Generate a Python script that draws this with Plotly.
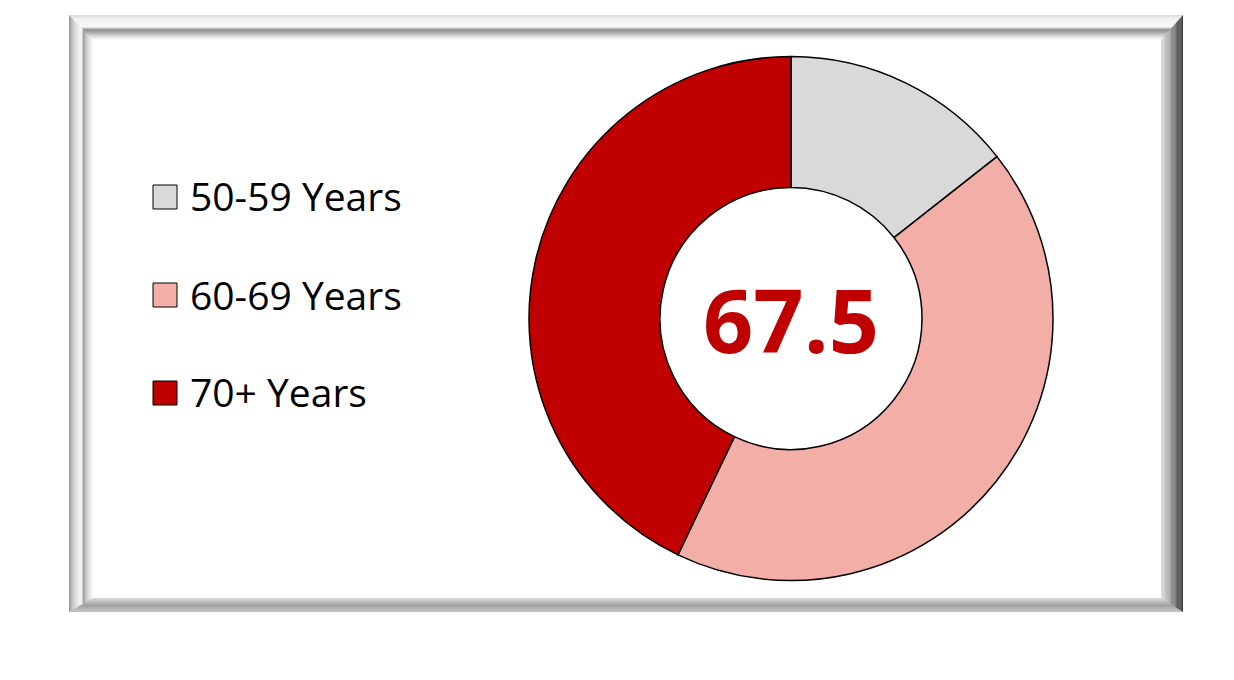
import plotly.graph_objects as go

# ---- data ----
labels = ["50-59 Years", "60-69 Years", "70+ Years"]
values = [14.4, 42.7, 42.9]
colors = ["#d9d9d9", "#f4aea8", "#c00000"]
center_value = "67.5"

W, H = 1234, 680


def X(px):
    return px / W


def Y(py):
    return 1 - py / H


def hex2rgb(h):
    h = h.lstrip("#")
    return tuple(int(h[i:i + 2], 16) for i in (0, 2, 4))


def grad(stops, t):
    for (t0, c0), (t1, c1) in zip(stops[:-1], stops[1:]):
        if t0 <= t <= t1:
            a = 0 if t1 == t0 else (t - t0) / (t1 - t0)
            r0, r1 = hex2rgb(c0), hex2rgb(c1)
            return "rgb(%d,%d,%d)" % tuple(round(r0[k] + (r1[k] - r0[k]) * a) for k in range(3))
    return stops[-1][1]


shapes = []
annotations = []

# ---- bevelled frame ----
L, T, R, B = 69, 15, 1183, 612
wT, wL, wR, wB = 25, 24, 22, 14
top_stops = [(0, "#dcdcdc"), (0.15, "#eeeeee"), (0.5, "#f8f8f8"), (0.54, "#9a9a9a"),
             (0.6, "#6e6e6e"), (0.78, "#b4b4b4"), (0.92, "#ececec"), (1, "#ffffff")]
left_stops = [(0, "#8e8e8e"), (0.2, "#c0c0c0"), (0.45, "#f0f0f0"), (0.55, "#f5f5f5"),
              (0.58, "#858585"), (0.8, "#cfcfcf"), (1, "#fcfcfc")]
right_stops = [(0, "#1c1c1c"), (0.2, "#383838"), (0.4, "#666666"), (0.6, "#959595"),
               (0.8, "#bababa"), (1, "#d6d6d6")]
bottom_stops = [(0, "#b4b4b4"), (0.45, "#808080"), (0.7, "#9c9c9c"), (1, "#d0d0d0")]

n = 26


def poly(pts):
    return "M " + " L ".join("%f,%f" % (X(a), Y(b)) for a, b in pts) + " Z"


for j in range(n):
    t0, t1 = j / n, (j + 1) / n
    tm = (t0 + t1) / 2
    xl0, xr0, yt0, yb0 = L + t0 * wL, R - t0 * wR, T + t0 * wT, B - t0 * wB
    xl1, xr1, yt1, yb1 = L + t1 * wL, R - t1 * wR, T + t1 * wT, B - t1 * wB
    sides = [
        ([(xl0, yt0), (xr0, yt0), (xr1, yt1), (xl1, yt1)], grad(top_stops, tm)),
        ([(xl0, yt0), (xl1, yt1), (xl1, yb1), (xl0, yb0)], grad(left_stops, tm)),
        ([(xr0, yt0), (xr0, yb0), (xr1, yb1), (xr1, yt1)], grad(right_stops, tm)),
        ([(xl0, yb0), (xr0, yb0), (xr1, yb1), (xl1, yb1)], grad(bottom_stops, tm)),
    ]
    for pts, col in sides:
        shapes.append(dict(type="path", xref="paper", yref="paper", path=poly(pts),
                           fillcolor=col, line=dict(width=0), layer="below"))

# ---- donut ----
cx, cy, rad = 791, 318.5, 262
fig = go.Figure(go.Pie(
    labels=labels,
    values=values,
    marker=dict(colors=colors, line=dict(color="#000000", width=1.5)),
    hole=0.5,
    sort=False,
    direction="clockwise",
    rotation=0,
    textinfo="none",
    showlegend=False,
    domain=dict(x=[X(cx - rad), X(cx + rad)], y=[Y(cy + rad), Y(cy - rad)]),
))

annotations.append(dict(
    x=X(cx), y=Y(cy), xref="paper", yref="paper", text=center_value, showarrow=False,
    xanchor="center", yanchor="middle",
    font=dict(family="Open Sans", size=88, color="#c00000", weight="bold"),
))

# ---- legend ----
leg_y = [197, 295, 393]
for lab, col, ly in zip(labels, colors, leg_y):
    shapes.append(dict(type="rect", xref="paper", yref="paper",
                       x0=X(153), x1=X(177), y0=Y(ly + 12), y1=Y(ly - 12),
                       fillcolor=col, line=dict(color="#000000", width=1)))
    annotations.append(dict(x=X(188), y=Y(ly - 1), xref="paper", yref="paper", text=lab,
                            showarrow=False, xanchor="left", yanchor="middle",
                            font=dict(family="Open Sans", size=39, color="#000000")))

fig.update_layout(
    width=W, height=H,
    margin=dict(l=0, r=0, t=0, b=0),
    paper_bgcolor="#ffffff",
    plot_bgcolor="#ffffff",
    shapes=shapes,
    annotations=annotations,
)

fig.write_html("out.html", config={"displayModeBar": False},
               post_script="document.body.style.margin='0';")
